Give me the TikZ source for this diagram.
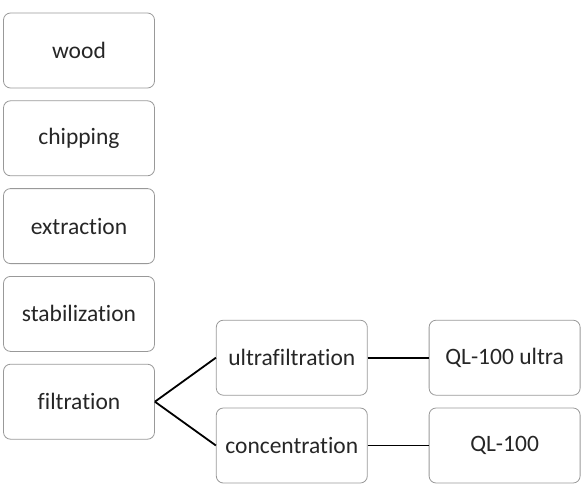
\documentclass[tikz,border=0pt]{standalone}
\usepackage{fontspec}
\setmainfont{Carlito}[Ligatures=NoCommon]
\usetikzlibrary{positioning}

\tikzset{
  stagebox/.style={draw=black!40, line width=0.8pt, rounded corners=7pt,
    minimum width=151pt, minimum height=75pt, inner sep=0pt,
    font=\fontsize{23.5}{27}\selectfont, text=black!85},
  link/.style={line width=1.8pt, black}
}

\begin{document}
\begin{tikzpicture}[x=1pt,y=-1pt]
\useasboundingbox (0,0) rectangle (581,498);

% main chain
\node[stagebox] (wood) at (79,50.5) {wood};
\node[stagebox, below=12pt of wood] (chipping) {chipping};
\node[stagebox, below=12pt of chipping] (extraction) {extraction};
\node[stagebox, below=12pt of extraction] (stabilization) {stabilization};
\node[stagebox, below=12pt of stabilization] (filtration) {filtration};

% branches
\node[stagebox, right=61pt of filtration, yshift=44pt] (ultra) {ultrafiltration};
\node[stagebox, below=12pt of ultra] (conc) {concentration};
\node[stagebox, right=61pt of ultra] (qlultra) {QL-100 ultra};
\node[stagebox, right=61pt of conc] (ql) {QL-100};

\draw[link] (filtration.east) -- (ultra.west);
\draw[link] (filtration.east) -- (conc.west);
\draw[link] (ultra.east) -- (qlultra.west);
\draw[link] (conc.east) -- (ql.west);
\end{tikzpicture}
\end{document}
